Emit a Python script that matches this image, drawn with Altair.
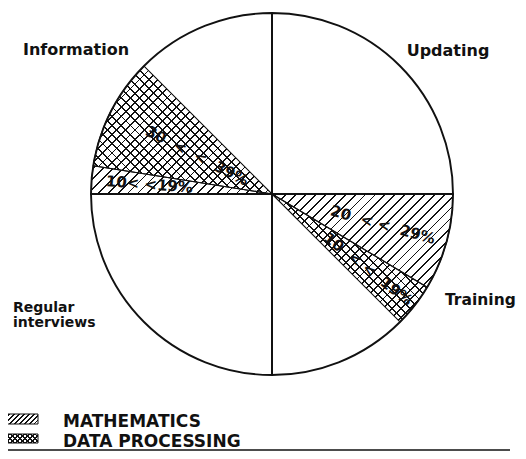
import math
import pandas as pd
import altair as alt

# ---------------- data ----------------
quadrant_names = ["Updating", "Training", "Regular interviews", "Information"]
quadrant_start = [0, 90, 180, 270]
quadrant_end = [90, 180, 270, 360]

sector_quadrant = ["Training", "Training", "Information", "Information"]
sector_subject = ["MATHEMATICS", "DATA PROCESSING", "MATHEMATICS", "DATA PROCESSING"]
sector_start = [90, 121, 270, 279]
sector_end = [121, 135, 279, 315]
sector_label = ["20\u00a0\u00a0<\u00a0<\u00a0\u00a029%",
                "10\u00a0\u00a0<\u00a0<\u00a0\u00a019%",
                "10<\u00a0<19%",
                "30\u00a0\u00a0<\u00a0\u00a0<\u00a0\u00a039%"]

legend_subjects = ["MATHEMATICS", "DATA PROCESSING"]

# ---------------- style ----------------
R = 181
INK = "#111111"
CLEAR = "rgba(0,0,0,0)"
FONT = "DejaVu Sans"
label_radius = [115, 122, 123, 84]

df_q = pd.DataFrame({"name": quadrant_names, "start": quadrant_start, "end": quadrant_end})
df_s = pd.DataFrame({"idx": list(range(len(sector_start))), "quadrant": sector_quadrant,
                     "subject": sector_subject, "start": sector_start, "end": sector_end,
                     "label": sector_label})
df_l = pd.DataFrame({"subject": legend_subjects})

theta_scale = alt.Scale(domain=[0, 360], range=[0, 2 * math.pi])


def sector_bbox(t0, t1):
    pts = [(0.0, 0.0)]
    degs = [t0, t1] + [d for d in (0, 90, 180, 270, 360) if t0 < d < t1]
    for d in degs:
        a = math.radians(d)
        pts.append((R * math.sin(a), -R * math.cos(a)))
    xs, ys = zip(*pts)
    return max(xs) - min(xs), max(ys) - min(ys)


def hatch(w, h, kind, spacing, lw):
    r = h / w
    a = (1 + r) / (1 + r * r)
    if kind == "/":
        x1, y1, x2, y2 = 0, 0, a, a * r
    else:
        x1, y1, x2, y2 = 0, 1, a, 1 - a * r
    n = (w + h) / (math.sqrt(2) * spacing)
    period = 1.0 / n
    half = (lw / spacing) * period / 2
    stops = [{"offset": 0, "color": CLEAR}]
    t = period / 2
    while t < 1:
        t0 = max(0.0, t - half)
        t1 = min(1.0, t + half)
        stops += [{"offset": round(t0, 5), "color": CLEAR},
                  {"offset": round(t0, 5), "color": INK},
                  {"offset": round(t1, 5), "color": INK},
                  {"offset": round(t1, 5), "color": CLEAR}]
        t += period
    stops.append({"offset": 1, "color": CLEAR})
    return {"gradient": "linear", "x1": x1, "y1": y1, "x2": x2, "y2": y2, "stops": stops}


layers = []

base_q = alt.Chart(df_q).encode(
    theta=alt.Theta("start:Q", scale=theta_scale), theta2="end:Q")
layers.append(base_q.mark_arc(radius=R, fill="white", strokeWidth=0))

for i in range(len(sector_start)):
    w, h = sector_bbox(sector_start[i], sector_end[i])
    base_s = alt.Chart(df_s).transform_filter(alt.datum.idx == i).encode(
        theta=alt.Theta("start:Q", scale=theta_scale), theta2="end:Q")
    if sector_subject[i] == "MATHEMATICS":
        layers.append(base_s.mark_arc(radius=R, fill=hatch(w, h, "/", 7.0, 1.3),
                                      stroke=INK, strokeWidth=1.1, strokeJoin="round"))
    else:
        layers.append(base_s.mark_arc(radius=R, fill=hatch(w, h, "/", 6.5, 1.3),
                                      stroke=INK, strokeWidth=1.1, strokeJoin="round"))
        layers.append(base_s.mark_arc(radius=R, fill=hatch(w, h, "\\", 6.5, 1.3),
                                      strokeWidth=0))

layers.append(base_q.mark_arc(radius=R, fill="white", fillOpacity=0, stroke=INK,
                              strokeWidth=1.9, strokeJoin="round"))

for i in range(len(sector_start)):
    layers.append(
        alt.Chart(df_s).transform_filter(alt.datum.idx == i).transform_calculate(
            mid="(datum.start + datum.end) / 2",
            rot="((datum.start + datum.end) / 2 - 90) % 180",
        ).mark_text(radius=label_radius[i], font=FONT, fontSize=15, fontWeight="bold",
                    align="center", baseline="middle", color=INK).encode(
            theta=alt.Theta("mid:Q", scale=theta_scale),
            text="label:N",
            angle=alt.Angle("rot:Q", scale=None),
        )
    )

# quadrant names
qpos = {
    "Updating": dict(x=376, y=48, align="center", size=16),
    "Training": dict(x=373, y=297, align="left", size=15.5),
    "Regular interviews": dict(x=-59, y=304, align="left", size=14),
    "Information": dict(x=4, y=47, align="center", size=16),
}
for name in quadrant_names:
    p = qpos[name]
    layers.append(
        alt.Chart(df_q).transform_filter(alt.datum.name == name).mark_text(
            font=FONT, fontWeight="bold", fontSize=p["size"], align=p["align"],
            baseline="alphabetic", lineBreak=" ", lineHeight=15, color=INK).encode(
            text="name:N", x=alt.value(p["x"]), y=alt.value(p["y"]))
    )

# legend
leg_y = {"MATHEMATICS": (406, 416, 419), "DATA PROCESSING": (426, 435, 439)}
for s in legend_subjects:
    y0, y1, yt = leg_y[s]
    src = alt.Chart(df_l).transform_filter(alt.datum.subject == s)
    layers.append(src.mark_rect(fill=hatch(31, y1 - y0, "/", 3.5, 1.2), stroke=INK,
                                strokeWidth=1).encode(
        x=alt.value(-65), x2=alt.value(-34), y=alt.value(y0), y2=alt.value(y1)))
    if s == "DATA PROCESSING":
        layers.append(src.mark_rect(fill=hatch(31, y1 - y0, "\\", 3.5, 1.2),
                                    strokeWidth=0).encode(
            x=alt.value(-65), x2=alt.value(-34), y=alt.value(y0), y2=alt.value(y1)))
    layers.append(src.mark_text(font=FONT, fontWeight="bold", fontSize=17, align="left",
                                baseline="alphabetic", color=INK).encode(
        text="subject:N", x=alt.value(-9), y=alt.value(yt)))

layers.append(alt.Chart(df_l).transform_filter(alt.datum.subject == "MATHEMATICS").mark_rule(
    color=INK, strokeWidth=1.6).encode(x=alt.value(-72), x2=alt.value(438), y=alt.value(442)))

chart = alt.layer(*layers).properties(
    width=400, height=372,
    padding={"left": 64, "top": 0, "right": 46, "bottom": 71},
    autosize=alt.AutoSizeParams(type="none"),
    background="white",
).configure_view(stroke=None)

chart.save("out.html", embed_options={"renderer": "svg", "actions": False})
